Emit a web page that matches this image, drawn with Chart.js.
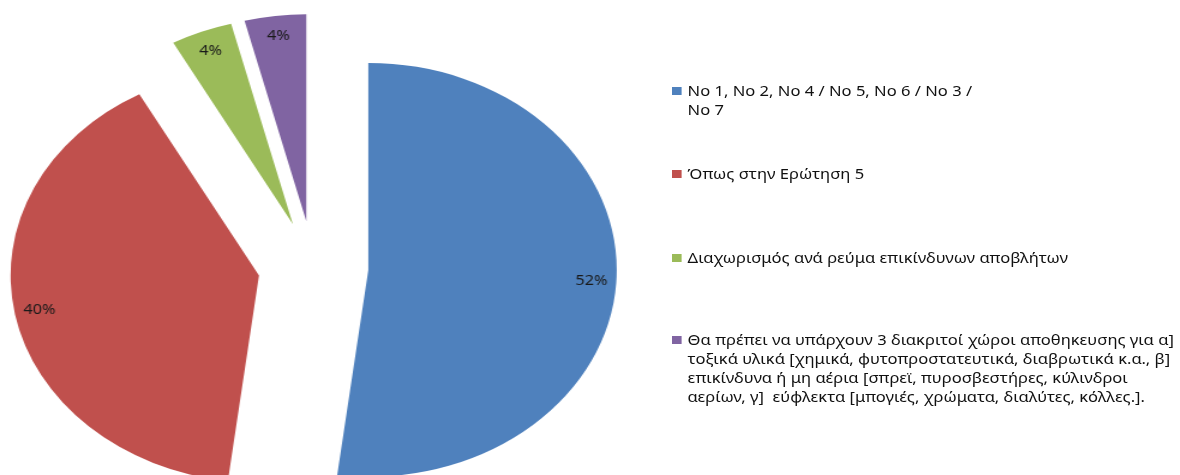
<!DOCTYPE html>
<html lang="el">
<head>
<meta charset="UTF-8" />
<title>Διαχωρισμός επικίνδυνων αποβλήτων</title>
<script src="https://cdn.jsdelivr.net/npm/chart.js"></script>
<style>
    html, body { margin: 0; padding: 0; background: #fff; overflow: hidden; }
    /* the whole sheet is stretched sideways, text included */
    #stage { position: relative; width: 983px; height: 475px; transform: scaleX(1.2); transform-origin: 0 0; }
    #pie { position: absolute; left: 0; top: 0; }
    #legend { position: absolute; left: 560px; top: 0; font-family: "Noto Sans", sans-serif; font-size: 13.8px; line-height: 19px; color: #111; }
    .item { position: absolute; left: 0; white-space: pre; }
    .box { position: absolute; left: 0; top: 6px; width: 8px; height: 8px; }
    .txt { margin-left: 13px; }
</style>
</head>
<body>
<div id="stage">
    <canvas id="pie" width="983" height="475"></canvas>
    <div id="legend"></div>
</div>

<script>
    // categories (one entry per line of the legend text)
    const categories = [
        ['No 1, No 2, No 4 / No 5, No 6 / No 3 /', 'No 7'],
        ['Όπως στην Ερώτηση 5'],
        ['Διαχωρισμός ανά ρεύμα επικίνδυνων αποβλήτων'],
        ['Θα πρέπει να υπάρχουν 3 διακριτοί χώροι αποθηκευσης για α]',
         'τοξικά υλικά [χημικά, φυτοπροστατευτικά, διαβρωτικά κ.α., β]',
         'επικίνδυνα ή μη αέρια [σπρεϊ, πυροσβεστήρες, κύλινδροι',
         'αερίων, γ]  εύφλεκτα [μπογιές, χρώματα, διαλύτες, κόλλες.].']
    ];
    const shares = [52, 40, 4, 4];
    const colors = ['#4F81BD', '#C0504D', '#9BBB59', '#8064A2'];

    const pieRadius = 207;
    const explodeShift = 46;        // px each slice is pulled out from the centre
    const legendTops = [81, 164, 248, 330];

    // pull every slice out along its middle angle by moving the arc centre
    const explodeSlices = {
        id: 'explodeSlices',
        beforeDatasetsDraw(chart) {
            const area = chart.chartArea;
            const cx = (area.left + area.right) / 2;
            const cy = (area.top + area.bottom) / 2;
            chart.getDatasetMeta(0).data.forEach(arc => {
                const mid = (arc.startAngle + arc.endAngle) / 2;
                arc.x = cx + Math.cos(mid) * explodeShift;
                arc.y = cy + Math.sin(mid) * explodeShift;
            });
        }
    };

    // percentage text inside each slice
    const pctLabels = {
        id: 'pctLabels',
        afterDatasetsDraw(chart) {
            const ctx = chart.ctx;
            ctx.save();
            ctx.font = '13.5px "Noto Sans", sans-serif';
            ctx.fillStyle = '#1a1a1a';
            ctx.textAlign = 'center';
            ctx.textBaseline = 'middle';
            chart.getDatasetMeta(0).data.forEach((arc, i) => {
                const mid = (arc.startAngle + arc.endAngle) / 2;
                const d = pieRadius * 0.9;
                ctx.fillText(shares[i] + '%', arc.x + Math.cos(mid) * d, arc.y + Math.sin(mid) * d);
            });
            ctx.restore();
        }
    };

    new Chart(document.getElementById('pie'), {
        type: 'pie',
        data: {
            labels: categories,
            datasets: [{
                data: shares,
                backgroundColor: colors,
                borderWidth: 0
            }]
        },
        options: {
            responsive: false,
            animation: false,
            radius: pieRadius,
            layout: { padding: { left: 0, right: 461, top: 59, bottom: 0 } },
            plugins: {
                legend: { display: false },
                tooltip: { enabled: false }
            }
        },
        plugins: [explodeSlices, pctLabels]
    });

    // legend on the right
    const legend = document.getElementById('legend');
    categories.forEach((lines, i) => {
        const item = document.createElement('div');
        item.className = 'item';
        item.style.top = legendTops[i] + 'px';
        const box = document.createElement('span');
        box.className = 'box';
        box.style.background = colors[i];
        const txt = document.createElement('div');
        txt.className = 'txt';
        txt.textContent = lines.join('\n');
        item.appendChild(box);
        item.appendChild(txt);
        legend.appendChild(item);
    });
</script>
</body>
</html>
